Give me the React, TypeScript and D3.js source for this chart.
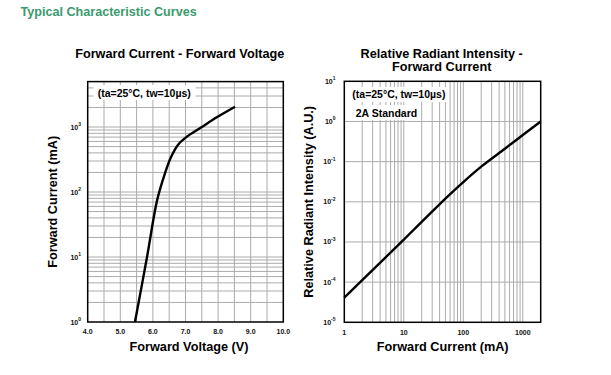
import React from 'react';
import * as d3 from 'd3';

// Forward Current - Forward Voltage
const vfVoltage = [5.45, 5.82, 6.13, 6.37, 6.55, 6.78, 7.04, 7.44, 7.96, 8.52];
const vfCurrent = [1, 10, 75, 194, 340, 540, 709, 955, 1409, 2050];
const vfXTicks = [4, 5, 6, 7, 8, 9, 10];
const vfYDecades = [0, 1, 2, 3];

// Relative Radiant Intensity - Forward Current
const riCurrent = [1, 2, 5, 10, 20, 50, 100, 200, 500, 1000, 2000];
const riIntensity = [4.1e-5, 1.12e-4, 4.2e-4, 1.15e-3, 3.15e-3, 1.2e-2, 3.1e-2, 7.5e-2, 0.21, 0.46, 1.0];
const riXTicks = [1, 10, 100, 1000];
const riYDecades = [1, 0, -1, -2, -3, -4, -5];

const FONT = '"Liberation Sans", Arial, Helvetica, sans-serif';
const GRID = '#ababab';

function YLabel({ x, y, exp }: { x: number; y: number; exp: number }) {
  return (
    <text x={x} y={y + 2.5} textAnchor="end" fontSize={7} fontWeight="bold" fontFamily={FONT} fill="#111">
      10<tspan fontSize={5} dy={-3.5}>{String(exp)}</tspan>
    </text>
  );
}

function App() {
  // Left chart
  const lx = d3.scaleLinear().domain([4, 10]).range([87.7, 283.3]);
  const ly = d3.scaleLog().domain([1, 5000]).range([322, 81.6]);
  const lVGrid = d3.range(4.5, 10, 0.5);
  const lHGrid: number[] = [];
  for (let d = 0; d <= 3; d++) for (let k = 1; k <= 9; k++) {
    const v = k * Math.pow(10, d);
    if (v > 1 && v < 5000) lHGrid.push(v);
  }
  const lLine = d3.line<number>()
    .x((_, i) => lx(vfVoltage[i]))
    .y((_, i) => ly(vfCurrent[i]))
    .curve(d3.curveCatmullRom.alpha(0.5));

  // Right chart
  const rx = d3.scaleLog().domain([1, 2000]).range([344.3, 540.7]);
  const ry = d3.scaleLog().domain([1e-5, 10]).range([322.3, 81.3]);
  const rVGrid: number[] = [];
  for (let d = 0; d <= 3; d++) for (let k = 1; k <= 9; k++) {
    const v = k * Math.pow(10, d);
    if (v > 1 && v < 2000) rVGrid.push(v);
  }
  const rHGrid = riYDecades.filter((e) => e > -5 && e < 1).map((e) => Math.pow(10, e));
  const rLine = d3.line<number>()
    .x((_, i) => rx(riCurrent[i]))
    .y((_, i) => ry(riIntensity[i]))
    .curve(d3.curveCatmullRom.alpha(0.5));

  const [lx0, lx1] = lx.range();
  const [ly0, ly1] = [ly(1), ly(5000)];
  const [rx0, rx1] = rx.range();
  const [ry0, ry1] = [ry(1e-5), ry(10)];

  return (
    <svg width={611} height={375} style={{ position: 'absolute', left: 0, top: 0, background: '#fff' }}>
      <rect x={0} y={0} width={611} height={375} fill="#fff" />
      <text x={20.5} y={16} fontSize={12.6} fontWeight="bold" fontFamily={FONT} fill="#3b9a6e">
        Typical Characteristic Curves
      </text>

      {/* Left chart */}
      <text x={179.7} y={58} textAnchor="middle" fontSize={12.7} fontWeight="bold" fontFamily={FONT} fill="#000">
        Forward Current - Forward Voltage
      </text>
      <g>
        {lVGrid.map((v) => (
          <line key={'lv' + v} x1={lx(v)} x2={lx(v)} y1={ly1} y2={ly0} stroke={GRID} strokeWidth={1} />
        ))}
        {lHGrid.map((v) => (
          <line key={'lh' + v} x1={lx0} x2={lx1} y1={ly(v)} y2={ly(v)} stroke={GRID} strokeWidth={1} />
        ))}
        <rect x={93.5} y={85} width={102} height={15} fill="#fff" />
        <text x={97.7} y={96.5} fontSize={10.5} fontWeight="bold" fontFamily={FONT} fill="#000">
          (ta=25°C, tw=10µs)
        </text>
        <path d={lLine(vfVoltage) || ''} fill="none" stroke="#000" strokeWidth={2.4} strokeLinejoin="round" />
        <rect x={lx0} y={ly1} width={lx1 - lx0} height={ly0 - ly1} fill="none" stroke="#000" strokeWidth={1.5} />
        {vfXTicks.map((v) => (
          <text key={'lxt' + v} x={lx(v)} y={333.5} textAnchor="middle" fontSize={7} fontWeight="bold" fontFamily={FONT} fill="#111">
            {v.toFixed(1)}
          </text>
        ))}
        {vfYDecades.map((e) => (
          <YLabel key={'lyt' + e} x={81} y={ly(Math.pow(10, e))} exp={e} />
        ))}
        <text x={189} y={351} textAnchor="middle" fontSize={12.7} fontWeight="bold" fontFamily={FONT} fill="#000">
          Forward Voltage (V)
        </text>
        <text transform={`translate(56.5, ${(ly0 + ly1) / 2}) rotate(-90)`} textAnchor="middle" fontSize={12.7} fontWeight="bold" fontFamily={FONT} fill="#000">
          Forward Current (mA)
        </text>
      </g>

      {/* Right chart */}
      <text x={441.7} y={57.5} textAnchor="middle" fontSize={12.7} fontWeight="bold" fontFamily={FONT} fill="#000">
        Relative Radiant Intensity -
      </text>
      <text x={441.7} y={71} textAnchor="middle" fontSize={12.7} fontWeight="bold" fontFamily={FONT} fill="#000">
        Forward Current
      </text>
      <g>
        {rVGrid.map((v) => (
          <line key={'rv' + v} x1={rx(v)} x2={rx(v)} y1={ry1} y2={ry0} stroke={GRID} strokeWidth={1} />
        ))}
        {rHGrid.map((v) => (
          <line key={'rh' + v} x1={rx0} x2={rx1} y1={ry(v)} y2={ry(v)} stroke={GRID} strokeWidth={1} />
        ))}
        <rect x={349} y={87} width={99} height={15} fill="#fff" />
        <rect x={352} y={105} width={68} height={15} fill="#fff" />
        <text x={352.3} y={98} fontSize={10.5} fontWeight="bold" fontFamily={FONT} fill="#000">
          (ta=25°C, tw=10µs)
        </text>
        <text x={355.7} y={116.5} fontSize={10.5} fontWeight="bold" fontFamily={FONT} fill="#000">
          2A Standard
        </text>
        <path d={rLine(riCurrent) || ''} fill="none" stroke="#000" strokeWidth={2.4} strokeLinejoin="round" />
        <rect x={rx0} y={ry1} width={rx1 - rx0} height={ry0 - ry1} fill="none" stroke="#000" strokeWidth={1.5} />
        {riXTicks.map((v) => (
          <text key={'rxt' + v} x={rx(v)} y={334.5} textAnchor="middle" fontSize={7} fontWeight="bold" fontFamily={FONT} fill="#111">
            {String(v)}
          </text>
        ))}
        {riYDecades.map((e) => (
          <YLabel key={'ryt' + e} x={335.5} y={ry(Math.pow(10, e))} exp={e} />
        ))}
        <text x={442.7} y={351} textAnchor="middle" fontSize={12.7} fontWeight="bold" fontFamily={FONT} fill="#000">
          Forward Current (mA)
        </text>
        <text transform={`translate(313, ${(ry0 + ry1) / 2}) rotate(-90)`} textAnchor="middle" fontSize={12.7} fontWeight="bold" fontFamily={FONT} fill="#000">
          Relative Radiant Intensity (A.U.)
        </text>
      </g>
    </svg>
  );
}

export default App;
